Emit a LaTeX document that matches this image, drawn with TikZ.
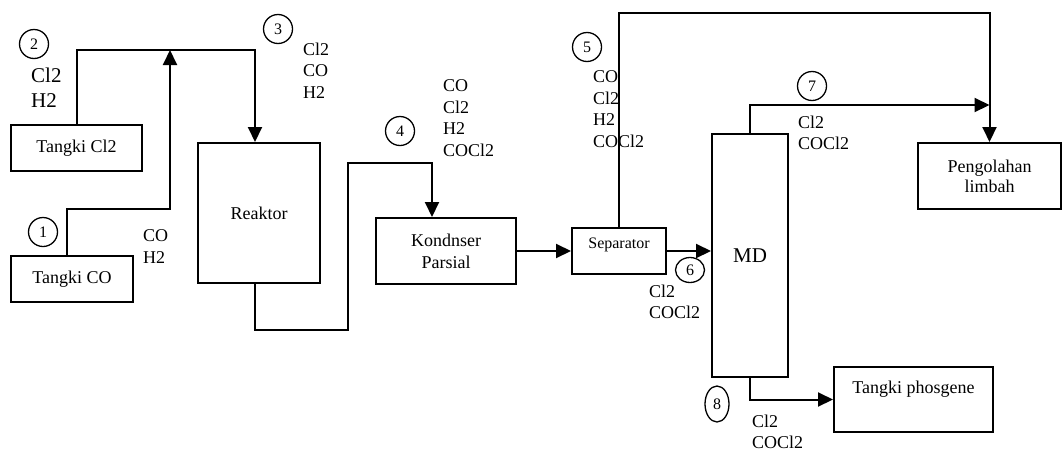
\documentclass[tikz,border=0pt]{standalone}
\usepackage{fontspec}
\setmainfont{Liberation Serif}
\usetikzlibrary{arrows.meta,shapes.geometric}

\begin{document}
\begin{tikzpicture}[x=1pt,y=-1pt,
    unit/.style={draw,line width=2pt,inner sep=2pt,align=center,font=\fontsize{18}{22}\selectfont},
    num/.style={circle,draw,line width=1.3pt,inner sep=0pt,minimum size=29pt,font=\fontsize{16}{16}\selectfont},
    comp/.style={anchor=north west,inner sep=0pt,align=left,font=\fontsize{18}{21.4}\selectfont},
    feed/.style={line width=2pt,-{Triangle[length=15pt,width=14pt]}}]
  \useasboundingbox (0,0) rectangle (1062,453);

  % units
  \node[unit,minimum width=131pt,minimum height=46pt] (tcl) at (76.5,148) {Tangki Cl2};
  \node[unit,minimum width=122pt,minimum height=46pt] (tco) at (72,279) {Tangki CO};
  \node[unit,minimum width=122pt,minimum height=140pt] (reaktor) at (259,213) {Reaktor};
  \node[unit,minimum width=140pt,minimum height=66pt] (kond) at (446,251) {Kondnser\\Parsial};
  \node[unit,minimum width=94pt,minimum height=46pt,text depth=15pt,font=\fontsize{16}{18}\selectfont] (sep) at (619,251) {Separator};
  \node[unit,minimum width=76pt,minimum height=243pt,font=\fontsize{21}{24}\selectfont] (md) at (750,255.5) {MD};
  \node[unit,minimum width=143pt,minimum height=66pt,font=\fontsize{18}{20}\selectfont] (limbah) at (989.5,176) {Pengolahan\\limbah};
  \node[unit,minimum width=159pt,minimum height=65pt,text depth=25pt] (phos) at (913.5,399.5) {Tangki phosgene};

  % bends
  \coordinate (mix) at (170,50);
  \coordinate (k1) at (170,209);
  \coordinate (k2) at (348,330);
  \coordinate (k3) at (348,163);
  \coordinate (k5) at (619,13);

  % streams
  \draw[feed] (tcl.north) |- (mix) -| ([xshift=-4pt]reaktor.north);
  \draw[feed] ([xshift=-5pt]tco.north) |- (k1) -- (mix);
  \draw[feed] ([xshift=-4pt]reaktor.south) |- (k2) -- (k3) -| ([xshift=-14pt]kond.north);
  \draw[feed] (kond.east) -- (sep.west);
  \draw[feed] (sep.north) -- (k5) -| (limbah.north);
  \draw[feed] (md.north) |- ([yshift=37pt]limbah.north);
  \draw[feed] (sep.east) -- (sep.east -| md.west);
  \draw[feed] (md.south) |- (phos.west);

  % stream numbers
  \node[num] (n1) at (43,232) {1};
  \node[num] (n2) at (34,44) {2};
  \node[num] (n3) at (278,29) {3};
  \node[num] (n4) at (400,131) {4};
  \node[num] (n5) at (587,47) {5};
  \node[num,ellipse,minimum width=29pt,minimum height=25pt] (n6) at (690,270) {6};
  \node[num] (n7) at (812,86) {7};
  \node[num,ellipse,minimum width=24pt,minimum height=36pt] (n8) at (717,404) {8};

  % compositions
  \node[comp,font=\fontsize{21}{25}\selectfont] (s2) at (31,67.7) {Cl2\\H2};
  \node[comp] (s3) at (303,42.7) {Cl2\\CO\\H2};
  \node[comp] (s1) at (143,229.7) {CO\\H2};
  \node[comp] (s4) at (443,79.7) {CO\\Cl2\\H2\\COCl2};
  \node[comp] (s5) at (593,70.7) {CO\\Cl2\\H2\\COCl2};
  \node[comp] (s7) at (798,115.7) {Cl2\\COCl2};
  \node[comp] (s6) at (649,284.7) {Cl2\\COCl2};
  \node[comp] (s8) at (752,414.7) {Cl2\\COCl2};
\end{tikzpicture}
\end{document}
